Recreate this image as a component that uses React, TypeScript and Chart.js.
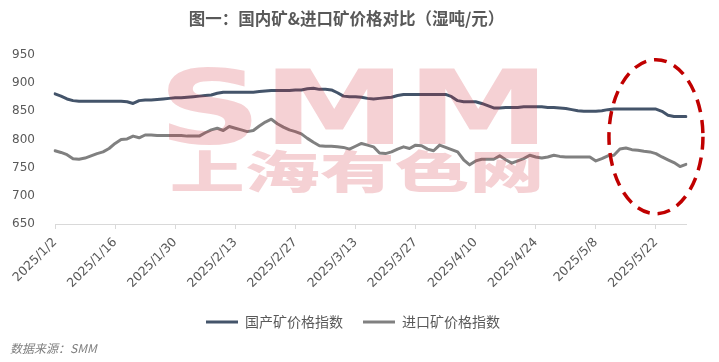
import React, { useEffect, useRef } from "react";
import { Chart, registerables } from "chart.js";

Chart.register(...registerables);

const chartTitle = "图一：国内矿&进口矿价格对比（湿吨/元）";
const sourceText = "数据来源：SMM";
const seriesNames = ["国产矿价格指数", "进口矿价格指数"];
const watermarkLatin = "SMM";
const watermarkCJK = "上海有色网";

const dates = [
  "2025/1/2", "2025/1/3", "2025/1/6", "2025/1/7", "2025/1/8", "2025/1/9", "2025/1/10",
  "2025/1/13", "2025/1/14", "2025/1/15", "2025/1/16", "2025/1/17", "2025/1/20", "2025/1/21",
  "2025/1/22", "2025/1/23", "2025/1/24", "2025/1/27", "2025/1/28", "2025/1/29", "2025/1/30",
  "2025/1/31", "2025/2/3", "2025/2/4", "2025/2/5", "2025/2/6", "2025/2/7", "2025/2/10",
  "2025/2/11", "2025/2/12", "2025/2/13", "2025/2/14", "2025/2/17", "2025/2/18", "2025/2/19",
  "2025/2/20", "2025/2/21", "2025/2/24", "2025/2/25", "2025/2/26", "2025/2/27", "2025/2/28",
  "2025/3/3", "2025/3/4", "2025/3/5", "2025/3/6", "2025/3/7", "2025/3/10", "2025/3/11",
  "2025/3/12", "2025/3/13", "2025/3/14", "2025/3/17", "2025/3/18", "2025/3/19", "2025/3/20",
  "2025/3/21", "2025/3/24", "2025/3/25", "2025/3/26", "2025/3/27", "2025/3/28", "2025/3/31",
  "2025/4/1", "2025/4/2", "2025/4/3", "2025/4/4", "2025/4/7", "2025/4/8", "2025/4/9",
  "2025/4/10", "2025/4/11", "2025/4/14", "2025/4/15", "2025/4/16", "2025/4/17", "2025/4/18",
  "2025/4/21", "2025/4/22", "2025/4/23", "2025/4/24", "2025/4/25", "2025/4/28", "2025/4/29",
  "2025/4/30", "2025/5/1", "2025/5/2", "2025/5/5", "2025/5/6", "2025/5/7", "2025/5/8",
  "2025/5/9", "2025/5/12", "2025/5/13", "2025/5/14", "2025/5/15", "2025/5/16", "2025/5/19",
  "2025/5/20", "2025/5/21", "2025/5/22", "2025/5/23", "2025/5/26", "2025/5/27", "2025/5/28",
  "2025/5/29",
];

const domesticIndex = [
  881, 877, 872, 869, 868, 868, 868, 868, 868, 868,
  868, 868, 867, 864, 869, 870, 870, 871, 872, 873,
  874, 874, 875, 876, 877, 878, 879, 882, 884, 884,
  884, 884, 884, 884, 885, 886, 887, 887, 887, 887,
  888, 888, 890, 891, 889, 889, 888, 883, 877, 876,
  876, 875, 873, 872, 873, 874, 875, 878, 880, 880,
  880, 880, 880, 880, 880, 880, 876, 869, 867, 867,
  867, 864, 860, 856, 856, 857, 857, 857, 858, 858,
  858, 858, 857, 857, 856, 855, 853, 851, 850, 850,
  850, 851, 853, 854, 854, 854, 854, 854, 854, 854,
  854, 850, 843, 841, 841, 841,
];

const importIndex = [
  780, 777, 773, 766, 765, 767, 771, 775, 778, 784,
  793, 800, 801, 806, 803, 808, 808, 807, 807, 807,
  807, 807, 806, 806, 806, 812, 817, 820, 816, 823,
  820, 817, 814, 816, 824, 831, 836, 828, 822, 817,
  814, 810, 802, 795, 789, 788, 788, 787, 786, 783,
  788, 793, 790, 787, 776, 775, 778, 783, 787, 784,
  790, 789, 783, 780, 790, 786, 782, 778, 764, 755,
  762, 765, 765, 765, 771, 764, 758, 762, 766, 772,
  769, 767, 769, 772, 770, 769, 769, 769, 769, 769,
  762, 766, 771, 772, 783, 785, 782, 781, 779, 778,
  775, 769, 764, 759, 752, 756,
];

const yMin = 650;
const yMax = 950;
const yStep = 50;
const labelEvery = 10;

const GRAY_TEXT = "#595959";

function fitText(
  ctx: CanvasRenderingContext2D,
  text: string,
  font: string,
  x0: number,
  y0: number,
  x1: number,
  y1: number
) {
  ctx.save();
  ctx.font = font;
  ctx.textAlign = "left";
  ctx.textBaseline = "alphabetic";
  const m = ctx.measureText(text);
  const w = m.actualBoundingBoxLeft + m.actualBoundingBoxRight;
  const h = m.actualBoundingBoxAscent + m.actualBoundingBoxDescent;
  ctx.translate(x0, y0);
  ctx.scale((x1 - x0) / w, (y1 - y0) / h);
  ctx.fillText(text, m.actualBoundingBoxLeft, m.actualBoundingBoxAscent);
  ctx.restore();
}

const overlayPlugin = {
  id: "overlay",
  afterLayout(chart: any) {
    if (chart.legend) {
      chart.legend.left = 20;
    }
  },
  afterDatasetsDraw(chart: any) {
    const ctx: CanvasRenderingContext2D = chart.ctx;
    ctx.save();
    ctx.fillStyle = "rgba(210,40,50,0.21)";
    fitText(ctx, watermarkLatin, '900 100px "DejaVu Sans", sans-serif', 168, 67, 538, 145);
    fitText(ctx, watermarkCJK, '900 100px "Noto Sans CJK SC", sans-serif', 172, 150, 540, 194);
    ctx.restore();

    const xs = chart.scales.x;
    const ys = chart.scales.y;
    const cx = xs.getPixelForValue(100);
    const cy = ys.getPixelForValue(805);
    ctx.save();
    ctx.strokeStyle = "#C00000";
    ctx.lineWidth = 3.5;
    ctx.setLineDash([13, 8]);
    ctx.beginPath();
    ctx.ellipse(cx, cy, 47, 77, 0, 0, Math.PI * 2);
    ctx.stroke();
    ctx.restore();
  },
  afterDraw(chart: any) {
    const ctx: CanvasRenderingContext2D = chart.ctx;
    ctx.save();
    ctx.fillStyle = GRAY_TEXT;
    ctx.font = 'bold 16.5px "Noto Sans CJK SC", sans-serif';
    ctx.textAlign = "center";
    ctx.textBaseline = "middle";
    ctx.fillText(chartTitle, 346.5, 19);

    ctx.fillStyle = "#7F7F7F";
    ctx.font = 'italic 12px "Noto Sans CJK SC", sans-serif';
    ctx.textAlign = "left";
    ctx.fillText(sourceText, 10, 348);
    ctx.restore();
  },
};

export default function App() {
  const canvasRef = useRef<HTMLCanvasElement | null>(null);

  useEffect(() => {
    document.body.style.margin = "0";
    const canvas = canvasRef.current;
    if (!canvas) return;
    const chart = new Chart(canvas, {
      type: "line",
      data: {
        labels: dates,
        datasets: [
          {
            label: seriesNames[0],
            data: domesticIndex,
            borderColor: "#44546A",
            backgroundColor: "#44546A",
            borderWidth: 3,
            pointRadius: 0,
            tension: 0,
            borderJoinStyle: "round",
            borderCapStyle: "round",
          },
          {
            label: seriesNames[1],
            data: importIndex,
            borderColor: "#808080",
            backgroundColor: "#808080",
            borderWidth: 3,
            pointRadius: 0,
            tension: 0,
            borderJoinStyle: "round",
            borderCapStyle: "round",
          },
        ],
      },
      options: {
        animation: false,
        responsive: false,
        maintainAspectRatio: false,
        layout: { padding: { top: 55, right: 33, bottom: 23, left: 0 } },
        plugins: {
          title: { display: false },
          tooltip: { enabled: false },
          legend: {
            position: "bottom",
            labels: {
              boxWidth: 32,
              boxHeight: 3,
              padding: 20,
              color: GRAY_TEXT,
              font: { size: 14, family: '"Noto Sans CJK SC", sans-serif' },
              generateLabels: (c: any) =>
                Chart.defaults.plugins.legend.labels
                  .generateLabels(c)
                  .map((l: any) => ({ ...l, lineWidth: 0 })),
            },
          },
        },
        scales: {
          x: {
            type: "category",
            offset: false,
            grid: {
              display: true,
              drawOnChartArea: false,
              drawTicks: true,
              tickLength: 5,
              color: "#D9D9D9",
            },
            border: { display: true, color: "#D9D9D9" },
            ticks: {
              autoSkip: false,
              minRotation: 45,
              maxRotation: 45,
              padding: 6,
              color: GRAY_TEXT,
              font: { size: 12.5, family: '"DejaVu Sans", sans-serif' },
              callback: (_v: any, i: number) => (i % labelEvery === 0 ? dates[i] : null),
            },
            afterFit: (s: any) => {
              s.height = 71;
            },
          },
          y: {
            min: yMin,
            max: yMax,
            grid: { display: false },
            border: { display: false },
            ticks: {
              stepSize: yStep,
              padding: 12,
              color: GRAY_TEXT,
              font: { size: 12, family: '"DejaVu Sans", sans-serif' },
            },
            afterFit: (s: any) => {
              s.width = 55;
            },
          },
        },
      },
      plugins: [overlayPlugin],
    } as any);
    return () => chart.destroy();
  }, []);

  return (
    <div style={{ width: 719, height: 362, background: "#fff" }}>
      <canvas ref={canvasRef} width={719} height={362} />
    </div>
  );
}
